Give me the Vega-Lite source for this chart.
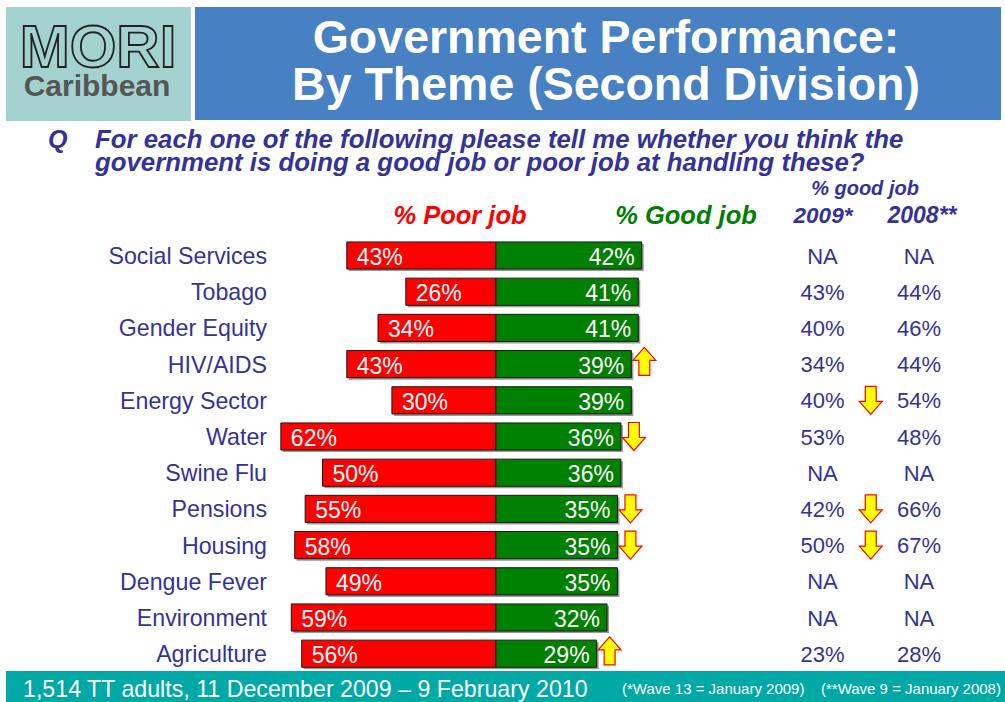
{
  "$schema": "https://vega.github.io/schema/vega-lite/v6.json",
  "width": 1005,
  "height": 702,
  "autosize": {"type": "fit", "contains": "padding"},
  "padding": 0,
  "background": "white",
  "config": {"view": {"stroke": null}, "font": "Liberation Sans"},
  "datasets": {
    "themes": [
      {"theme": "Social Services", "poor": 0.43, "good": 0.42, "arrow": null, "y2009": null, "y2008": null, "trend": null},
      {"theme": "Tobago", "poor": 0.26, "good": 0.41, "arrow": null, "y2009": 0.43, "y2008": 0.44, "trend": null},
      {"theme": "Gender Equity", "poor": 0.34, "good": 0.41, "arrow": null, "y2009": 0.40, "y2008": 0.46, "trend": null},
      {"theme": "HIV/AIDS", "poor": 0.43, "good": 0.39, "arrow": "up", "y2009": 0.34, "y2008": 0.44, "trend": null},
      {"theme": "Energy Sector", "poor": 0.30, "good": 0.39, "arrow": null, "y2009": 0.40, "y2008": 0.54, "trend": "down"},
      {"theme": "Water", "poor": 0.62, "good": 0.36, "arrow": "down", "y2009": 0.53, "y2008": 0.48, "trend": null},
      {"theme": "Swine Flu", "poor": 0.50, "good": 0.36, "arrow": null, "y2009": null, "y2008": null, "trend": null},
      {"theme": "Pensions", "poor": 0.55, "good": 0.35, "arrow": "down", "y2009": 0.42, "y2008": 0.66, "trend": "down"},
      {"theme": "Housing", "poor": 0.58, "good": 0.35, "arrow": "down", "y2009": 0.50, "y2008": 0.67, "trend": "down"},
      {"theme": "Dengue Fever", "poor": 0.49, "good": 0.35, "arrow": null, "y2009": null, "y2008": null, "trend": null},
      {"theme": "Environment", "poor": 0.59, "good": 0.32, "arrow": null, "y2009": null, "y2008": null, "trend": null},
      {"theme": "Agriculture", "poor": 0.56, "good": 0.29, "arrow": "up", "y2009": 0.23, "y2008": 0.28, "trend": null}
    ]
  },
  "data": {"name": "themes"},
  "resolve": {"scale": {"x": "independent", "y": "shared"}},
  "layer": [
    {
      "data": {"values": [{}]},
      "mark": {"type": "rect", "fill": "#A3D2CF"},
      "encoding": {"x": {"value": 6}, "x2": {"value": 191}, "y": {"value": 7}, "y2": {"value": 121}}
    },
    {
      "data": {"values": [{}]},
      "mark": {"type": "rect", "fill": "#4781C4"},
      "encoding": {"x": {"value": 195}, "x2": {"value": 1001}, "y": {"value": 7}, "y2": {"value": 120}}
    },
    {
      "data": {"values": [{}]},
      "mark": {"type": "rect", "fill": "#00A9A5"},
      "encoding": {"x": {"value": 6}, "x2": {"value": 1005}, "y": {"value": 671}, "y2": {"value": 702}}
    },
    {
      "data": {"values": [{}]},
      "mark": {"type": "text", "text": "MORI", "font": "Liberation Sans", "fontSize": 60, "fontWeight": "bold", "fill": "#A3D2CF", "stroke": "#222222", "strokeWidth": 1.8, "align": "center", "baseline": "alphabetic"},
      "encoding": {"x": {"value": 98}, "y": {"value": 67}}
    },
    {
      "data": {"values": [{}]},
      "mark": {"type": "text", "text": "Caribbean", "font": "Liberation Sans", "fontSize": 30, "fontWeight": "bold", "fill": "#555555", "align": "center", "baseline": "alphabetic"},
      "encoding": {"x": {"value": 97}, "y": {"value": 96}}
    },
    {
      "data": {"values": [{}]},
      "mark": {"type": "text", "text": ["Government Performance:", "By Theme (Second Division)"], "lineHeight": 47, "font": "Liberation Sans", "fontSize": 46.5, "fontWeight": "bold", "fill": "white", "align": "center", "baseline": "alphabetic"},
      "encoding": {"x": {"value": 606}, "y": {"value": 53}}
    },
    {
      "data": {"values": [{}]},
      "mark": {"type": "text", "text": "Q", "font": "Liberation Sans", "fontSize": 25, "fontWeight": "bold", "fontStyle": "italic", "fill": "#333399", "align": "left", "baseline": "alphabetic"},
      "encoding": {"x": {"value": 48}, "y": {"value": 148}}
    },
    {
      "data": {"values": [{}]},
      "mark": {"type": "text", "text": ["For each one of the following please tell me whether you think the", "government is doing a good job or poor job at handling these?"], "lineHeight": 23, "font": "Liberation Sans", "fontSize": 25.8, "fontWeight": "bold", "fontStyle": "italic", "fill": "#333399", "align": "left", "baseline": "alphabetic"},
      "encoding": {"x": {"value": 95}, "y": {"value": 148}}
    },
    {
      "data": {"values": [{}]},
      "mark": {"type": "text", "text": "% good job", "font": "Liberation Sans", "fontSize": 20, "fontWeight": "bold", "fontStyle": "italic", "fill": "#333399", "align": "center", "baseline": "alphabetic"},
      "encoding": {"x": {"value": 865}, "y": {"value": 195}}
    },
    {
      "data": {"values": [{}]},
      "mark": {"type": "text", "text": "2009*", "font": "Liberation Sans", "fontSize": 22.5, "fontWeight": "bold", "fontStyle": "italic", "fill": "#333399", "align": "center", "baseline": "alphabetic"},
      "encoding": {"x": {"value": 823}, "y": {"value": 223}}
    },
    {
      "data": {"values": [{}]},
      "mark": {"type": "text", "text": "2008**", "font": "Liberation Sans", "fontSize": 23, "fontWeight": "bold", "fontStyle": "italic", "fill": "#333399", "align": "center", "baseline": "alphabetic"},
      "encoding": {"x": {"value": 922}, "y": {"value": 223}}
    },
    {
      "data": {"values": [{}]},
      "mark": {"type": "text", "text": "% Poor job", "font": "Liberation Sans", "fontSize": 25.5, "fontWeight": "bold", "fontStyle": "italic", "fill": "#FF0000", "align": "center", "baseline": "alphabetic"},
      "encoding": {"x": {"value": 460}, "y": {"value": 224}}
    },
    {
      "data": {"values": [{}]},
      "mark": {"type": "text", "text": "% Good job", "font": "Liberation Sans", "fontSize": 25.5, "fontWeight": "bold", "fontStyle": "italic", "fill": "#008000", "align": "center", "baseline": "alphabetic"},
      "encoding": {"x": {"value": 686}, "y": {"value": 224}}
    },
    {
      "data": {"values": [{}]},
      "mark": {"type": "text", "text": "1,514 TT adults, 11 December 2009 \u2013 9 February 2010", "font": "Liberation Sans", "fontSize": 23.2, "fill": "white", "align": "left", "baseline": "alphabetic"},
      "encoding": {"x": {"value": 23}, "y": {"value": 697}}
    },
    {
      "data": {"values": [{}]},
      "mark": {"type": "text", "text": "(*Wave 13 = January 2009)", "font": "Liberation Sans", "fontSize": 15, "fill": "white", "align": "left", "baseline": "alphabetic"},
      "encoding": {"x": {"value": 622}, "y": {"value": 694}}
    },
    {
      "data": {"values": [{}]},
      "mark": {"type": "text", "text": "(**Wave 9 = January 2008)", "font": "Liberation Sans", "fontSize": 15, "fill": "white", "align": "left", "baseline": "alphabetic"},
      "encoding": {"x": {"value": 821}, "y": {"value": 694}}
    },
    {
      "mark": {"type": "text", "font": "Liberation Sans", "fontSize": 23.2, "fill": "#333399", "align": "right", "baseline": "alphabetic", "dy": 8.5},
      "encoding": {
        "x": {"value": 267},
        "y": {"field": "theme", "type": "nominal", "sort": null, "axis": null, "scale": {"domain": ["Social Services", "Tobago", "Gender Equity", "HIV/AIDS", "Energy Sector", "Water", "Swine Flu", "Pensions", "Housing", "Dengue Fever", "Environment", "Agriculture"], "range": [237.4, 671.8], "paddingInner": 0.25, "paddingOuter": 0.125}},
        "text": {"field": "theme"}
      }
    },
    {
      "mark": {"type": "rect", "fill": "#999999", "xOffset": 2, "yOffset": 2},
      "encoding": {
        "x": {"field": "poor", "type": "quantitative", "axis": null, "scale": {"domain": [-1.4669, 1.4294], "reverse": true, "nice": false, "zero": false}},
        "x2": {"datum": 0},
        "y": {"field": "theme", "type": "nominal", "sort": null, "axis": null}
      }
    },
    {
      "mark": {"type": "rect", "fill": "#999999", "xOffset": 2, "yOffset": 2},
      "encoding": {
        "x": {"field": "good", "type": "quantitative", "axis": null, "scale": {"domain": [-1.4294, 1.4669], "nice": false, "zero": false}},
        "x2": {"datum": 0},
        "y": {"field": "theme", "type": "nominal", "sort": null, "axis": null}
      }
    },
    {
      "mark": {"type": "rect", "fill": "#FF0000", "stroke": "#1a1a1a", "strokeWidth": 1},
      "encoding": {
        "x": {"field": "poor", "type": "quantitative", "axis": null, "scale": {"domain": [-1.4669, 1.4294], "reverse": true, "nice": false, "zero": false}},
        "x2": {"datum": 0},
        "y": {"field": "theme", "type": "nominal", "sort": null, "axis": null}
      }
    },
    {
      "mark": {"type": "rect", "fill": "#008000", "stroke": "#1a1a1a", "strokeWidth": 1},
      "encoding": {
        "x": {"field": "good", "type": "quantitative", "axis": null, "scale": {"domain": [-1.4294, 1.4669], "nice": false, "zero": false}},
        "x2": {"datum": 0},
        "y": {"field": "theme", "type": "nominal", "sort": null, "axis": null}
      }
    },
    {
      "mark": {"type": "text", "font": "Liberation Sans", "fontSize": 23, "fill": "white", "align": "left", "baseline": "alphabetic", "dx": 10, "dy": 9.5},
      "encoding": {
        "x": {"field": "poor", "type": "quantitative", "axis": null, "scale": {"domain": [-1.4669, 1.4294], "reverse": true, "nice": false, "zero": false}},
        "y": {"field": "theme", "type": "nominal", "sort": null, "axis": null},
        "text": {"field": "poor", "type": "quantitative", "format": ".0%"}
      }
    },
    {
      "mark": {"type": "text", "font": "Liberation Sans", "fontSize": 23, "fill": "white", "align": "right", "baseline": "alphabetic", "dx": -7, "dy": 9.5},
      "encoding": {
        "x": {"field": "good", "type": "quantitative", "axis": null, "scale": {"domain": [-1.4294, 1.4669], "nice": false, "zero": false}},
        "y": {"field": "theme", "type": "nominal", "sort": null, "axis": null},
        "text": {"field": "good", "type": "quantitative", "format": ".0%"}
      }
    },
    {
      "transform": [{"filter": "isValid(datum.arrow)"}],
      "mark": {"type": "point", "filled": true, "fill": "#FFFF00", "stroke": "#FF0000", "strokeWidth": 1.2, "opacity": 1, "size": 784, "xOffset": 13},
      "encoding": {
        "x": {"field": "good", "type": "quantitative", "axis": null, "scale": {"domain": [-1.4294, 1.4669], "nice": false, "zero": false}},
        "y": {"field": "theme", "type": "nominal", "sort": null, "axis": null},
        "shape": {"field": "arrow", "type": "nominal", "legend": null, "scale": {"domain": ["up", "down"], "range": ["M-0.39,0.8L0.39,0.8L0.39,-0.27L0.82,-0.27L0,-1.2L-0.82,-0.27L-0.39,-0.27Z", "M-0.39,-1L0.39,-1L0.39,0.07L0.82,0.07L0,1L-0.82,0.07L-0.39,0.07Z"]}}
      }
    },
    {
      "transform": [{"fold": ["y2009", "y2008"], "as": ["col", "val"]}],
      "mark": {"type": "text", "font": "Liberation Sans", "fontSize": 22, "fill": "#333399", "align": "center", "baseline": "alphabetic", "dy": 8},
      "encoding": {
        "x": {"field": "col", "type": "nominal", "axis": null, "scale": {"type": "point", "domain": ["y2009", "trend", "y2008"], "range": [822.5, 919], "padding": 0}},
        "y": {"field": "theme", "type": "nominal", "sort": null, "axis": null},
        "text": {"condition": {"test": "!isValid(datum.val)", "value": "NA"}, "field": "val", "type": "quantitative", "format": ".0%"}
      }
    },
    {
      "transform": [{"filter": "isValid(datum.trend)"}],
      "mark": {"type": "point", "filled": true, "fill": "#FFFF00", "stroke": "#FF0000", "strokeWidth": 1.2, "opacity": 1, "size": 784},
      "encoding": {
        "x": {"datum": "trend", "type": "nominal", "axis": null, "scale": {"type": "point", "domain": ["y2009", "trend", "y2008"], "range": [822.5, 919], "padding": 0}},
        "y": {"field": "theme", "type": "nominal", "sort": null, "axis": null},
        "shape": {"field": "trend", "type": "nominal", "legend": null, "scale": {"domain": ["up", "down"], "range": ["M-0.39,0.8L0.39,0.8L0.39,-0.27L0.82,-0.27L0,-1.2L-0.82,-0.27L-0.39,-0.27Z", "M-0.39,-1L0.39,-1L0.39,0.07L0.82,0.07L0,1L-0.82,0.07L-0.39,0.07Z"]}}
      }
    }
  ]
}
